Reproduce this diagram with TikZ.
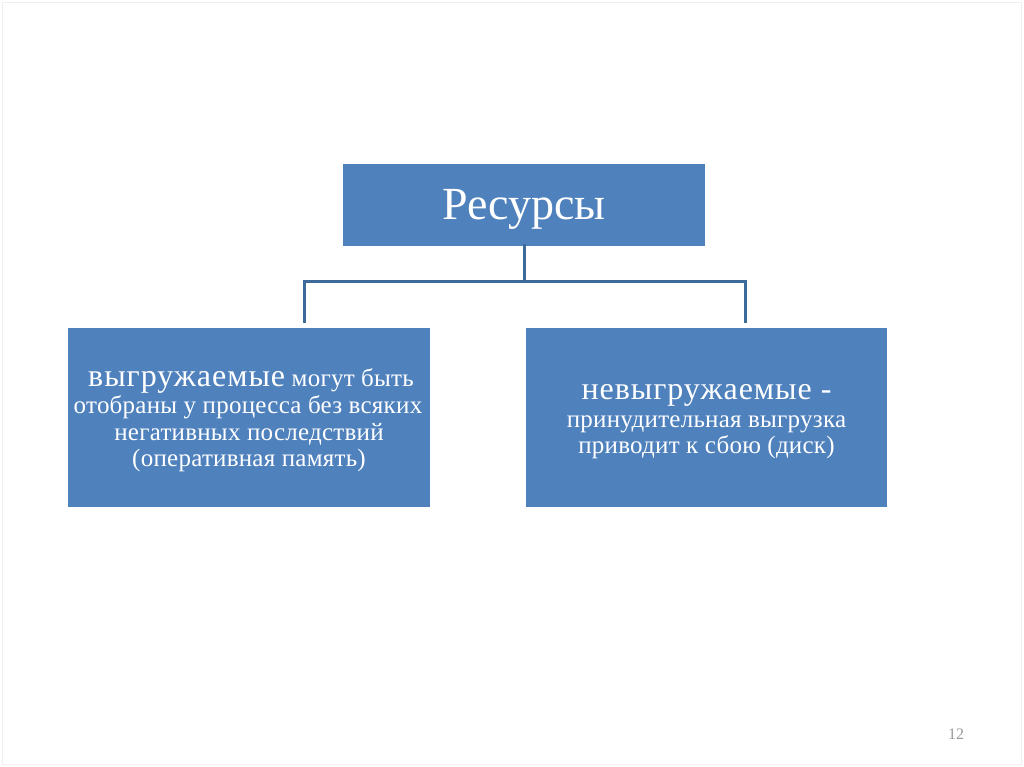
\documentclass[tikz,border=0pt]{standalone}
\usepackage{fontspec}
\setmainfont{Liberation Serif}
\definecolor{boxblue}{HTML}{4F81BD}
\definecolor{lineblue}{HTML}{3D6A9A}
\newcommand{\bigtxt}{\fontsize{32}{32}\selectfont\addfontfeature{LetterSpace=3}}
\newcommand{\smalltxt}{\fontsize{25}{27}\selectfont\addfontfeature{LetterSpace=1}}
\begin{document}
\begin{tikzpicture}[x=1pt,y=-1pt,
  blockbox/.style={fill=boxblue, draw=none, inner sep=0pt},
  linetxt/.style={text=white, inner sep=0pt, anchor=base, font=\smalltxt},
  conn/.style={draw=lineblue, line width=3pt}]
\useasboundingbox (0,0) rectangle (1024,767);
\fill[white] (0,0) rectangle (1024,767);
\draw[gray!12, line width=1pt] (2.5,2.5) rectangle (1021.5,764.5);
\node[blockbox, minimum width=362, minimum height=82] (top) at (524,205) {};
\node[blockbox, minimum width=362, minimum height=179] (left) at (249,417.5) {};
\node[blockbox, minimum width=361, minimum height=179] (right) at (706.5,417.5) {};
\node[linetxt, font=\fontsize{46}{50}\selectfont] (t0) at (524,220) {Ресурсы};
\node[linetxt] (l1) at (251,386) {{\bigtxt выгружаемые} могут быть};
\node[linetxt] (l2) at (248,413) {отобраны у процесса без всяких};
\node[linetxt] (l3) at (249,440) {негативных последствий};
\node[linetxt] (l4) at (249,466) {(оперативная память)};
\node[linetxt, font=\bigtxt] (r1) at (706.5,399) {невыгружаемые -};
\node[linetxt] (r2) at (706.5,427) {принудительная выгрузка};
\node[linetxt] (r3) at (706.5,453) {приводит к сбою (диск)};
\coordinate (cl) at (304,323);
\coordinate (cr) at (745,323);
\draw[conn] ([yshift=2]top.south) -- ++(0,37) coordinate (j);
\draw[conn] (j) -| (cl);
\draw[conn] (j) -| (cr);
\node[text=gray!80, font=\fontsize{16}{18}\selectfont] (pg) at (956,734) {12};
\end{tikzpicture}
\end{document}
